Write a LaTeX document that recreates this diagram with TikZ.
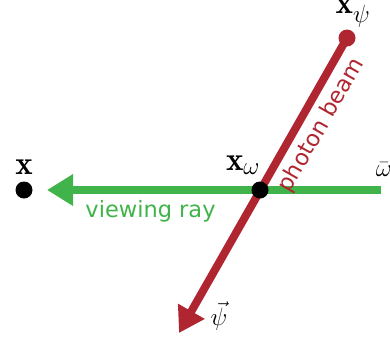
\documentclass[tikz,border=0pt]{standalone}
\usepackage{fontspec}
\setsansfont{DejaVu Sans}
\usepackage{amsmath}
\usetikzlibrary{arrows.meta}
\definecolor{beamred}{RGB}{176,38,48}
\definecolor{raygreen}{RGB}{64,180,74}
\tikzset{
  dot/.style={circle,fill=black,inner sep=0pt,minimum size=17pt},
  reddot/.style={circle,fill=beamred,inner sep=0pt,minimum size=17pt},
  mathlbl/.style={inner sep=0pt,font=\fontsize{33}{38}\selectfont},
  txtlbl/.style={inner sep=0pt,font=\sffamily\fontsize{22.5}{27}\selectfont},
  greenline/.style={draw=raygreen,line width=8pt,-{Triangle[length=26pt,width=30pt]}},
  redline/.style={draw=beamred,line width=8pt,-{Triangle[length=25pt,width=29pt]}}
}
\begin{document}
\begin{tikzpicture}[x=1pt,y=-1pt]
\useasboundingbox (0,0) rectangle (390,338);
\coordinate (rayend) at (381,190);
\coordinate (raytip) at (47,190);
\coordinate (beamtip) at (179,333);
\node[reddot] (xpsi) at (347,38) {};
\path[greenline] (rayend) -- (raytip) node[pos=0.69,below=6pt,txtlbl,text=raygreen] (vr) {viewing ray};
\path[redline] (xpsi.center) -- (beamtip);
\path (xpsi.center) -- (beamtip) node[pos=0.26,sloped,below=10pt,txtlbl,text=beamred] (pb) {photon beam};
\node[dot] (x) at (24,190) {};
\node[dot] (xw) at (260,190) {};
\node[mathlbl] (lx) at (24,167) {$\mathbf{x}$};
\node[mathlbl] (lxw) at (243,165) {$\mathbf{x}_\omega$};
\node[mathlbl] (lxpsi) at (353,13) {$\mathbf{x}_\psi$};
\node[mathlbl] (lom) at (384,170) {$\bar{\omega}$};
\node[mathlbl] (lpsi) at (219,316) {$\vec{\psi}$};
\end{tikzpicture}
\end{document}
